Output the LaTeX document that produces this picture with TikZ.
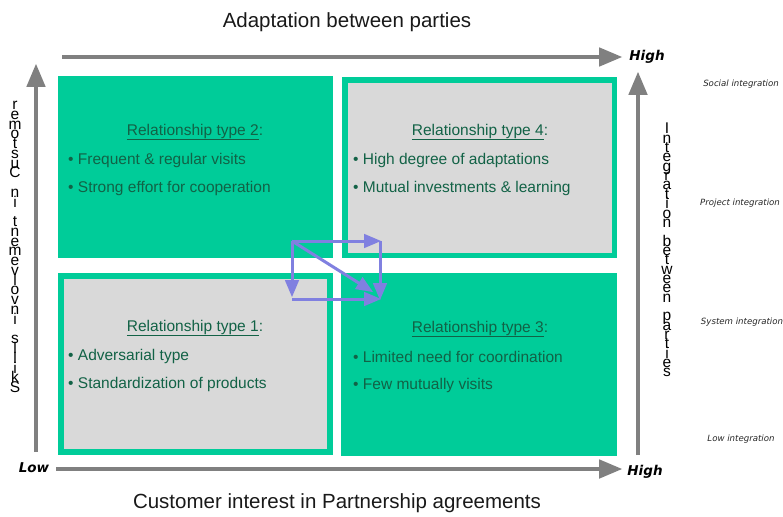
\documentclass[tikz,border=0pt]{standalone}
\usepackage{fontspec}
\setmainfont{Liberation Sans}
\newfontfamily\verdfont{DejaVu Sans}
\usepackage{pgf,tikz}
\usetikzlibrary{calc, arrows, math}
\newcommand\tightlines{\lineskiplimit-50pt\relax\lineskip0pt\relax}
\definecolor{quadgreen}{RGB}{0,204,153}
\definecolor{quadgray}{RGB}{217,217,217}
\definecolor{quadtext}{RGB}{18,98,70}
\definecolor{axisgray}{RGB}{128,128,128}
\definecolor{flowblue}{RGB}{128,128,224}
\tikzset{
  axis/.style={->, line width=4.5pt, draw=axisgray},
  flow/.style={->, line width=3pt, draw=flowblue},
  boxtitle/.style={text=quadtext, inner sep=0pt, font=\fontsize{15.5}{18}\selectfont},
  boxitem/.style={boxtitle, anchor=west},
  stackcol/.style={inner sep=0pt, anchor=north, align=center},
  level/.style={inner sep=0pt, text=black!85, font=\verdfont\itshape\fontsize{8.6}{10}\selectfont},
  extreme/.style={inner sep=0pt, font=\verdfont\bfseries\itshape\fontsize{13.5}{15}\selectfont},
  maintitle/.style={inner sep=0pt, text=black!90, font=\fontsize{20.5}{24}\selectfont}
}

\begin{document}
\begin{tikzpicture}[x=1pt, y=-1pt, >=triangle 45]

\useasboundingbox (0,0) rectangle (783,516);

\fill[quadgreen] (58,76) rectangle (333,258);
\fill[quadgreen] (342,77) rectangle (617,258);
\fill[quadgray]  (348,83) rectangle (612,253);
\fill[quadgreen] (58,273) rectangle (333,455);
\fill[quadgray]  (64,279) rectangle (327,449);
\fill[quadgreen] (341,273) rectangle (617,456);

\node[maintitle] (adapt) at (347,22) {Adaptation between parties};
\node[maintitle] (interest) at (337,503) {Customer interest in Partnership agreements};

\coordinate (ax0) at (36,452);  \coordinate (ax1) at (36,64);
\coordinate (ay0) at (62,57);   \coordinate (ay1) at (622,57);
\coordinate (bx0) at (56,469);  \coordinate (bx1) at (622,469);
\coordinate (by0) at (638,455); \coordinate (by1) at (638,72);
\draw[axis] (ax0) -- (ax1);
\draw[axis] (ay0) -- (ay1);
\draw[axis] (bx0) -- (bx1);
\draw[axis] (by0) -- (by1);

\node[extreme] (hightop) at (647,57) {High};
\node[extreme] (highbot) at (645,472) {High};
\node[extreme] (lowbot) at (34,468) {Low};

\node[stackcol, font=\fontsize{15.5}{9.76}\selectfont\tightlines] (skills) at (15,101)
  {r\\e\\m\\o\\t\\s\\u\\C\\\mbox{}\\n\\i\\\mbox{}\\t\\n\\e\\m\\e\\v\\l\\o\\v\\n\\i\\\mbox{}\\s\\l\\l\\i\\k\\S};
\node[stackcol, font=\fontsize{15.5}{9.35}\selectfont\tightlines] (integ) at (667,123)
  {I\\n\\t\\e\\g\\r\\a\\t\\i\\o\\n\\\mbox{}\\b\\e\\t\\w\\e\\e\\n\\\mbox{}\\p\\a\\r\\t\\i\\e\\s};

\node[level] (social) at (741,84) {Social integration};
\node[level] (project) at (740,203) {Project integration};
\node[level] (system) at (742,322) {System integration};
\node[level] (lowint) at (741,439) {Low integration};

\node[boxtitle] (type2) at (195,132) {\underline{Relationship type 2}:};
\node[boxitem] (type2a) at (68,160) {• Frequent \& regular visits};
\node[boxitem] (type2b) at (68,188) {• Strong effort for cooperation};

\node[boxtitle] (type4) at (480,132) {\underline{Relationship type 4}:};
\node[boxitem] (type4a) at (353,160) {• High degree of adaptations};
\node[boxitem] (type4b) at (353,188) {• Mutual investments \& learning};

\node[boxtitle] (type1) at (195,328) {\underline{Relationship type 1}:};
\node[boxitem] (type1a) at (68,356) {• Adversarial type};
\node[boxitem] (type1b) at (68,384) {• Standardization of products};

\node[boxtitle] (type3) at (480,329) {\underline{Relationship type 3}:};
\node[boxitem] (type3a) at (353,357) {• Limited need for coordination};
\node[boxitem] (type3b) at (353,385) {• Few mutually visits};

\coordinate (fa) at (292,241); \coordinate (fb) at (381,241);
\coordinate (fc) at (292,297); \coordinate (fd) at (373,292);
\coordinate (fe) at (380,300); \coordinate (ff) at (292,299);
\coordinate (fg) at (381,299); \coordinate (fh) at (380,241);
\draw[flow] (fa) -- (fb);
\draw[flow] (fa) -- (fc);
\draw[flow] (fa) -- (fd);
\draw[flow] (fh) -- (fe);
\draw[flow] (ff) -- (fg);

\end{tikzpicture}
\end{document}
